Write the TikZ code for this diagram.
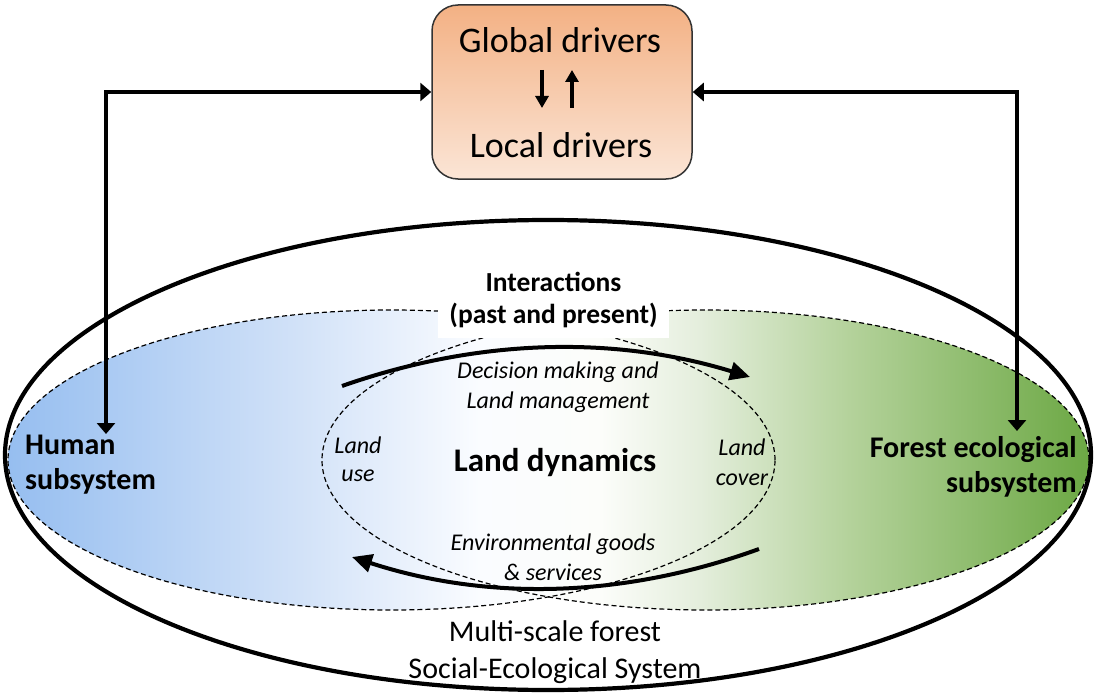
\documentclass[tikz,border=0pt]{standalone}
\usepackage{fontspec}
\setmainfont{Carlito}
\usetikzlibrary{arrows.meta}
\definecolor{bl0}{RGB}{150,190,240}
\definecolor{bl1}{RGB}{210,226,248}
\definecolor{wh1}{RGB}{250,252,255}
\definecolor{wh2}{RGB}{252,253,250}
\definecolor{gr1}{RGB}{228,238,220}
\definecolor{gr2}{RGB}{180,210,155}
\definecolor{gr3}{RGB}{108,168,68}
\definecolor{or1}{RGB}{243,177,132}
\definecolor{or2}{RGB}{251,229,214}
\pgfdeclarehorizontalshading{venn}{100bp}{color(0bp)=(bl0); color(25bp)=(bl0); color(38.5bp)=(bl1); color(46.8bp)=(wh1); color(52.4bp)=(wh2); color(57bp)=(gr1); color(63.9bp)=(gr2); color(75bp)=(gr3); color(100bp)=(gr3)}
\begin{document}
\begin{tikzpicture}[x=1pt,y=-1pt,
 drvbox/.style={draw=black!80, line width=1.5pt, rounded corners=26pt, top color=or1, bottom color=or2, minimum width=260pt, minimum height=174pt},
 bigtxt/.style={font=\fontsize{36}{43}\selectfont, inner sep=0pt},
 subsys/.style={font=\bfseries\fontsize{30}{35}\selectfont, inner sep=0pt},
 ital/.style={font=\itshape\fontsize{24}{30}\selectfont, align=center, inner sep=0pt},
 conn/.style={line width=3.2pt, {Triangle[length=11pt,width=18pt]}-{Triangle[length=11pt,width=18pt]}},
 flow/.style={line width=4pt, -{Triangle[length=20pt,width=18pt]}},
 inarrow/.style={line width=3.4pt, -{Triangle[length=12pt,width=13pt]}},
 dashline/.style={line width=1.2pt, dash pattern=on 5pt off 3pt}]
\useasboundingbox (0,0) rectangle (1096,693);
% Venn fill
\shade[shading=venn] (391.5,460) ellipse [x radius=383.5pt, y radius=150pt] (705.5,460) ellipse [x radius=383.5pt, y radius=150pt];
\draw[dashline] (391.5,460) ellipse [x radius=383.5pt, y radius=150pt];
\draw[dashline] (705.5,460) ellipse [x radius=383.5pt, y radius=150pt];
% outer system ellipse
\draw[line width=4.2pt] (548,455) ellipse [x radius=543pt, y radius=235pt];
% interactions label
\node[fill=white, minimum width=231pt, minimum height=76pt, inner sep=0pt, align=center, font=\bfseries\fontsize{27.5}{32}\selectfont] (inter) at (553.5,300) {Interactions\\(past and present)};
% flows
\coordinate (f1s) at (342,386);
\coordinate (f1e) at (750,377);
\coordinate (f2s) at (759,549);
\coordinate (f2e) at (352,557);
\draw[flow] (f1s) .. controls (478,338.3) and (614,335.3) .. (f1e);
\draw[flow] (f2s) .. controls (622.7,598.3) and (487,601) .. (f2e);
% texts
\node[ital] (dm) at (558,387) {Decision making and\\Land management};
\node[ital] (eg) at (553,557) {Environmental goods\\\& services};
\node[ital, font=\itshape\fontsize{24}{28}\selectfont] (lu) at (358,459) {Land\\use};
\node[ital, font=\itshape\fontsize{24}{30}\selectfont] (lc) at (742,462) {Land\\cover};
\node[inner sep=0pt, font=\bfseries\fontsize{33}{40}\selectfont] (ld) at (555,463) {Land dynamics};
\node[inner sep=0pt, align=center, font=\fontsize{30}{37}\selectfont] (mss) at (555,652) {Multi-scale forest\\Social-Ecological System};
\node[subsys, anchor=west, align=left] (hs) at (25,465) {Human\\subsystem};
\node[subsys, anchor=east, align=right] (fs) at (1077,467) {Forest ecological\\subsystem};
% drivers box
\node[drvbox] (drv) at (562,92) {};
\node[bigtxt] (gd) at (560,40) {Global drivers};
\node[bigtxt] (lcd) at (561,145) {Local drivers};
\coordinate (a1s) at (542,70);
\coordinate (a1e) at (542,108);
\coordinate (a2s) at (572,108);
\coordinate (a2e) at (572,70);
\draw[inarrow] (a1s) -- (a1e);
\draw[inarrow] (a2s) -- (a2e);
% connectors
\coordinate (hT) at (106,434);
\coordinate (fT) at (1017,431);
\draw[conn] (drv.west) -| (hT);
\draw[conn] (drv.east) -| (fT);
\end{tikzpicture}
\end{document}
